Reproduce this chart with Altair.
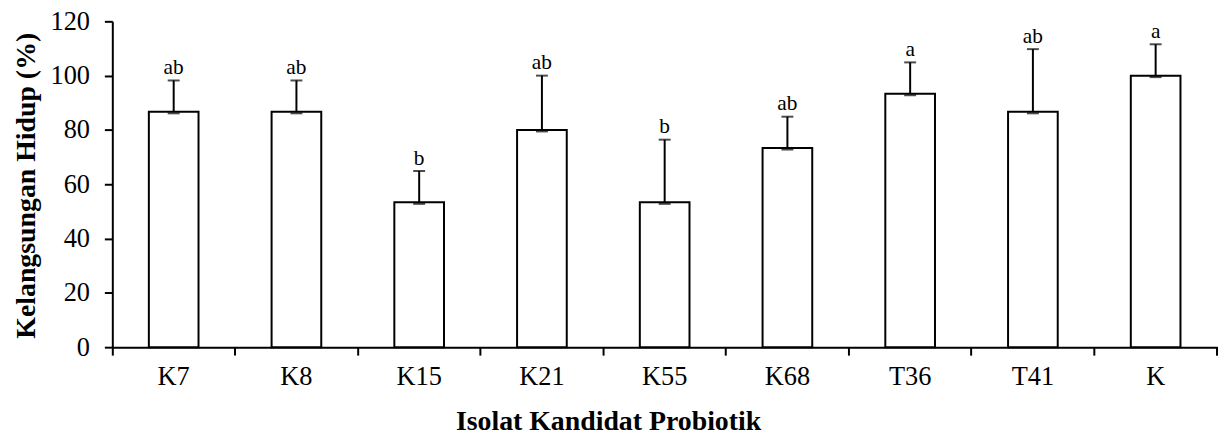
import altair as alt
import pandas as pd

categories = ["K7", "K8", "K15", "K21", "K55", "K68", "T36", "T41", "K"]
means = [86.67, 86.67, 53.33, 80.0, 53.33, 73.33, 93.33, 86.67, 100.0]
errors = [11.55, 11.55, 11.55, 20.0, 23.09, 11.55, 11.55, 23.09, 11.55]
letters = ["ab", "ab", "b", "ab", "b", "ab", "a", "ab", "a"]
y_ticks = [0, 20, 40, 60, 80, 100, 120]

df = pd.DataFrame({"cat": categories, "mean": means, "err": errors, "letter": letters})

FONT = "Liberation Serif"
W, H = 1112, 328

base = alt.Chart(df).transform_calculate(top="datum.mean + datum.err")

x_enc = alt.X(
    "cat:N",
    sort=categories,
    scale=alt.Scale(paddingInner=0, paddingOuter=0),
    axis=alt.Axis(
        title="Isolat Kandidat Probiotik",
        bandPosition=0,
        labelAngle=0,
        labelFontSize=26.5,
        labelPadding=9,
        tickSize=8,
        titleFontSize=28,
        titleFontWeight="bold",
        titleX=499,
        titleY=83,
        titleAlign="center",
        titleBaseline="alphabetic",
    ),
)

y_scale = alt.Scale(domain=[0, 120], nice=False)

bars = base.mark_bar(size=50, fill="white", stroke="black", strokeWidth=2).encode(
    x=x_enc,
    y=alt.Y(
        "mean:Q",
        scale=y_scale,
        axis=alt.Axis(
            title="Kelangsungan Hidup (%)",
            values=y_ticks,
            grid=False,
            labelFontSize=26.5,
            labelPadding=15,
            tickSize=8,
            titleFontSize=28,
            titleFontWeight="bold",
            titleAngle=270,
            titleX=-86,
            titleY=165,
            titleAlign="center",
            titleBaseline="middle",
        ),
    ),
)

err_rule = base.mark_rule(color="black", strokeWidth=2).encode(
    x=alt.X("cat:N", sort=categories),
    y=alt.Y("mean:Q", scale=y_scale),
    y2="top:Q",
)

cap_top = base.mark_tick(color="black", size=12, thickness=2).encode(
    x=alt.X("cat:N", sort=categories),
    y=alt.Y("top:Q", scale=y_scale),
)

cap_low = base.mark_tick(color="black", size=12, thickness=2, yOffset=1.5).encode(
    x=alt.X("cat:N", sort=categories),
    y=alt.Y("mean:Q", scale=y_scale),
)

labels = base.mark_text(
    font=FONT, fontSize=21.5, baseline="alphabetic", dy=-6.5, color="black"
).encode(
    x=alt.X("cat:N", sort=categories),
    y=alt.Y("top:Q", scale=y_scale),
    text="letter:N",
)

end_tick = alt.Chart(df).mark_rule(color="black", strokeWidth=2).encode(
    x=alt.value(W), y=alt.value(H), y2=alt.value(H + 8)
)

chart = (
    alt.layer(bars, err_rule, cap_low, cap_top, labels, end_tick)
    .properties(
        width=W,
        height=H,
        autosize=alt.AutoSizeParams(type="none"),
        padding={"left": 105, "top": 12, "right": 2, "bottom": 89},
        background="white",
    )
    .configure_view(stroke=None)
    .configure_axis(
        domainColor="black",
        domainWidth=2,
        tickColor="black",
        tickWidth=2,
        labelColor="black",
        titleColor="black",
        labelFont=FONT,
        titleFont=FONT,
    )
)

chart.save("out.html", embed_options={"renderer": "svg", "actions": False})
